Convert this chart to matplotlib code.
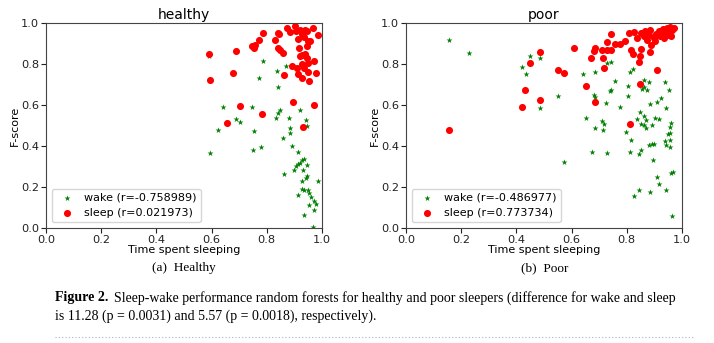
import numpy as np
import matplotlib
matplotlib.use("Agg")
import matplotlib.pyplot as plt
from matplotlib.lines import Line2D

# healthy sleepers
healthy_wake_x = [0.594, 0.623, 0.642, 0.687, 0.703, 0.745, 0.755, 0.751, 0.780, 0.770,
                  0.787, 0.837, 0.842, 0.832, 0.840, 0.846, 0.869, 0.880, 0.885, 0.883,
                  0.859, 0.892, 0.914, 0.864, 0.897, 0.907, 0.912, 0.921, 0.927, 0.936,
                  0.944, 0.919, 0.941, 0.946, 0.927, 0.943, 0.946, 0.984, 0.913, 0.929,
                  0.934, 0.948, 0.952, 0.960, 0.970, 0.978, 0.952, 0.970, 0.934, 0.967,
                  0.931, 0.590]
healthy_wake_y = [0.364, 0.480, 0.590, 0.532, 0.519, 0.590, 0.473, 0.380, 0.397, 0.732,
                  0.813, 0.767, 0.686, 0.537, 0.561, 0.577, 0.789, 0.537, 0.488, 0.463,
                  0.437, 0.398, 0.371, 0.265, 0.285, 0.301, 0.314, 0.317, 0.333, 0.338,
                  0.306, 0.574, 0.525, 0.496, 0.228, 0.244, 0.252, 0.228, 0.163, 0.192,
                  0.184, 0.187, 0.171, 0.150, 0.130, 0.117, 0.111, 0.089, 0.065, 0.003,
                  0.285, 0.840]
healthy_sleep_x = [0.590, 0.596, 0.657, 0.676, 0.687, 0.703, 0.747, 0.752, 0.756, 0.770,
                   0.787, 0.781, 0.831, 0.839, 0.843, 0.839, 0.849, 0.859, 0.863, 0.873,
                   0.884, 0.896, 0.891, 0.902, 0.909, 0.913, 0.913, 0.915, 0.921, 0.929,
                   0.926, 0.926, 0.929, 0.932, 0.940, 0.945, 0.944, 0.940, 0.945, 0.948,
                   0.948, 0.952, 0.958, 0.967, 0.970, 0.970, 0.978, 0.984, 0.950, 0.935,
                   0.920, 0.905, 0.936]
healthy_sleep_y = [0.849, 0.722, 0.511, 0.754, 0.862, 0.597, 0.886, 0.880, 0.892, 0.919,
                   0.951, 0.556, 0.919, 0.951, 0.946, 0.878, 0.867, 0.854, 0.748, 0.976,
                   0.956, 0.613, 0.789, 0.984, 0.780, 0.753, 0.922, 0.878, 0.967, 0.946,
                   0.846, 0.802, 0.730, 0.493, 0.964, 0.959, 0.886, 0.850, 0.829, 0.805,
                   0.759, 0.715, 0.911, 0.976, 0.816, 0.602, 0.756, 0.940, 0.910, 0.930,
                   0.840, 0.960, 0.780]

# poor sleepers
poor_wake_x = [0.157, 0.229, 0.420, 0.433, 0.450, 0.486, 0.487, 0.549, 0.573, 0.643,
               0.653, 0.673, 0.680, 0.684, 0.686, 0.684, 0.710, 0.716, 0.713, 0.725,
               0.728, 0.728, 0.742, 0.738, 0.742, 0.758, 0.774, 0.798, 0.803, 0.803,
               0.810, 0.822, 0.815, 0.813, 0.825, 0.837, 0.844, 0.845, 0.853, 0.846,
               0.853, 0.861, 0.855, 0.861, 0.863, 0.863, 0.871, 0.871, 0.873, 0.879,
               0.879, 0.885, 0.891, 0.891, 0.897, 0.894, 0.883, 0.903, 0.909, 0.915,
               0.909, 0.915, 0.925, 0.940, 0.943, 0.940, 0.943, 0.943, 0.949, 0.952,
               0.956, 0.958, 0.958, 0.961, 0.961, 0.958, 0.967, 0.964]
poor_wake_y = [0.915, 0.852, 0.784, 0.753, 0.837, 0.828, 0.585, 0.642, 0.320, 0.753,
               0.535, 0.369, 0.647, 0.639, 0.488, 0.759, 0.520, 0.507, 0.476, 0.610,
               0.366, 0.805, 0.810, 0.667, 0.675, 0.715, 0.590, 0.467, 0.691, 0.646,
               0.759, 0.777, 0.428, 0.371, 0.154, 0.532, 0.184, 0.361, 0.379, 0.566,
               0.507, 0.545, 0.678, 0.688, 0.724, 0.504, 0.488, 0.525, 0.675, 0.711,
               0.407, 0.605, 0.410, 0.504, 0.411, 0.333, 0.176, 0.537, 0.613, 0.532,
               0.247, 0.215, 0.634, 0.711, 0.584, 0.423, 0.403, 0.184, 0.459, 0.675,
               0.463, 0.491, 0.393, 0.512, 0.268, 0.431, 0.271, 0.060]
poor_sleep_x = [0.157, 0.421, 0.432, 0.450, 0.485, 0.486, 0.549, 0.572, 0.608, 0.653,
                0.671, 0.680, 0.684, 0.684, 0.713, 0.716, 0.710, 0.728, 0.728, 0.742,
                0.742, 0.758, 0.776, 0.794, 0.808, 0.825, 0.815, 0.822, 0.813, 0.843,
                0.846, 0.849, 0.851, 0.837, 0.853, 0.861, 0.867, 0.873, 0.879, 0.885,
                0.888, 0.885, 0.897, 0.903, 0.909, 0.915, 0.921, 0.931, 0.940, 0.946,
                0.952, 0.958, 0.961, 0.964, 0.936, 0.952, 0.970, 0.928, 0.905, 0.868]
poor_sleep_y = [0.478, 0.589, 0.675, 0.803, 0.857, 0.624, 0.769, 0.758, 0.876, 0.691,
                0.831, 0.862, 0.878, 0.616, 0.829, 0.780, 0.867, 0.907, 0.870, 0.870,
                0.946, 0.899, 0.899, 0.911, 0.951, 0.954, 0.870, 0.850, 0.509, 0.808,
                0.704, 0.841, 0.873, 0.927, 0.951, 0.938, 0.959, 0.919, 0.943, 0.967,
                0.894, 0.859, 0.927, 0.911, 0.772, 0.959, 0.935, 0.971, 0.951, 0.976,
                0.959, 0.979, 0.935, 0.967, 0.927, 0.940, 0.976, 0.960, 0.945, 0.930]

titles = ["healthy", "poor"]
wake_r = ["-0.758989", "-0.486977"]
sleep_r = ["0.021973", "0.773734"]
sub_captions = ["(a)  Healthy", "(b)  Poor"]
ticks = [0.0, 0.2, 0.4, 0.6, 0.8, 1.0]

fig = plt.figure(figsize=(7.14, 3.43), dpi=100)
axes = [fig.add_axes([0.0644, 0.3353, 0.3866, 0.5977]),
        fig.add_axes([0.5686, 0.3353, 0.3866, 0.5977])]

data = [(healthy_wake_x, healthy_wake_y, healthy_sleep_x, healthy_sleep_y),
        (poor_wake_x, poor_wake_y, poor_sleep_x, poor_sleep_y)]

for i, ax in enumerate(axes):
    wx, wy, sx, sy = data[i]
    ax.scatter(wx, wy, marker="*", s=20, color="green", linewidths=0,
               label=f"wake (r={wake_r[i]})")
    ax.scatter(sx, sy, marker="o", s=26, color="red", linewidths=0,
               label=f"sleep (r={sleep_r[i]})")
    ax.set_xlim(0, 1)
    ax.set_ylim(0, 1)
    ax.set_xticks(ticks)
    ax.set_yticks(ticks)
    ax.tick_params(labelsize=8.2, length=3.5, width=0.8, pad=1.5, colors="#222222")
    ax.set_title(titles[i], fontsize=10, pad=3)
    ax.set_xlabel("Time spent sleeping", fontsize=8, labelpad=0)
    ax.set_ylabel("F-score", fontsize=8, labelpad=1)
    for sp in ax.spines.values():
        sp.set_color("#444444")
        sp.set_linewidth(0.8)
    ax.legend(loc="lower left", fontsize=8, scatterpoints=1, handletextpad=0.5,
              borderpad=0.4, labelspacing=0.45, borderaxespad=0.5)

serif = ["Liberation Serif", "DejaVu Serif"]
fig.text(184 / 714, 1 - 268 / 343, sub_captions[0], ha="center", va="center",
         fontsize=9.5, family=serif)
fig.text(545 / 714, 1 - 268 / 343, sub_captions[1], ha="center", va="center",
         fontsize=9.5, family=serif)

x0 = 55 / 714
bold = fig.text(x0, 1 - 298 / 343, "Figure 2.", ha="left", va="center",
                fontsize=10, family=serif, weight="bold")
fig.canvas.draw()
bb = bold.get_window_extent(fig.canvas.get_renderer())
x1 = (bb.x1 + 6) / fig.bbox.width
fig.text(x1, 1 - 298 / 343,
         "Sleep-wake performance random forests for healthy and poor sleepers "
         "(difference for wake and sleep",
         ha="left", va="center", fontsize=10, family=serif)
fig.text(x0, 1 - 316 / 343,
         "is 11.28 (p = 0.0031) and 5.57 (p = 0.0018), respectively).",
         ha="left", va="center", fontsize=10, family=serif)

fig.add_artist(Line2D([55 / 714, 695 / 714], [1 - 337 / 343, 1 - 337 / 343],
                      transform=fig.transFigure, color="#a8b4c0",
                      linestyle=(0, (1, 2)), linewidth=0.8))

fig.savefig("out.png", dpi=100)
